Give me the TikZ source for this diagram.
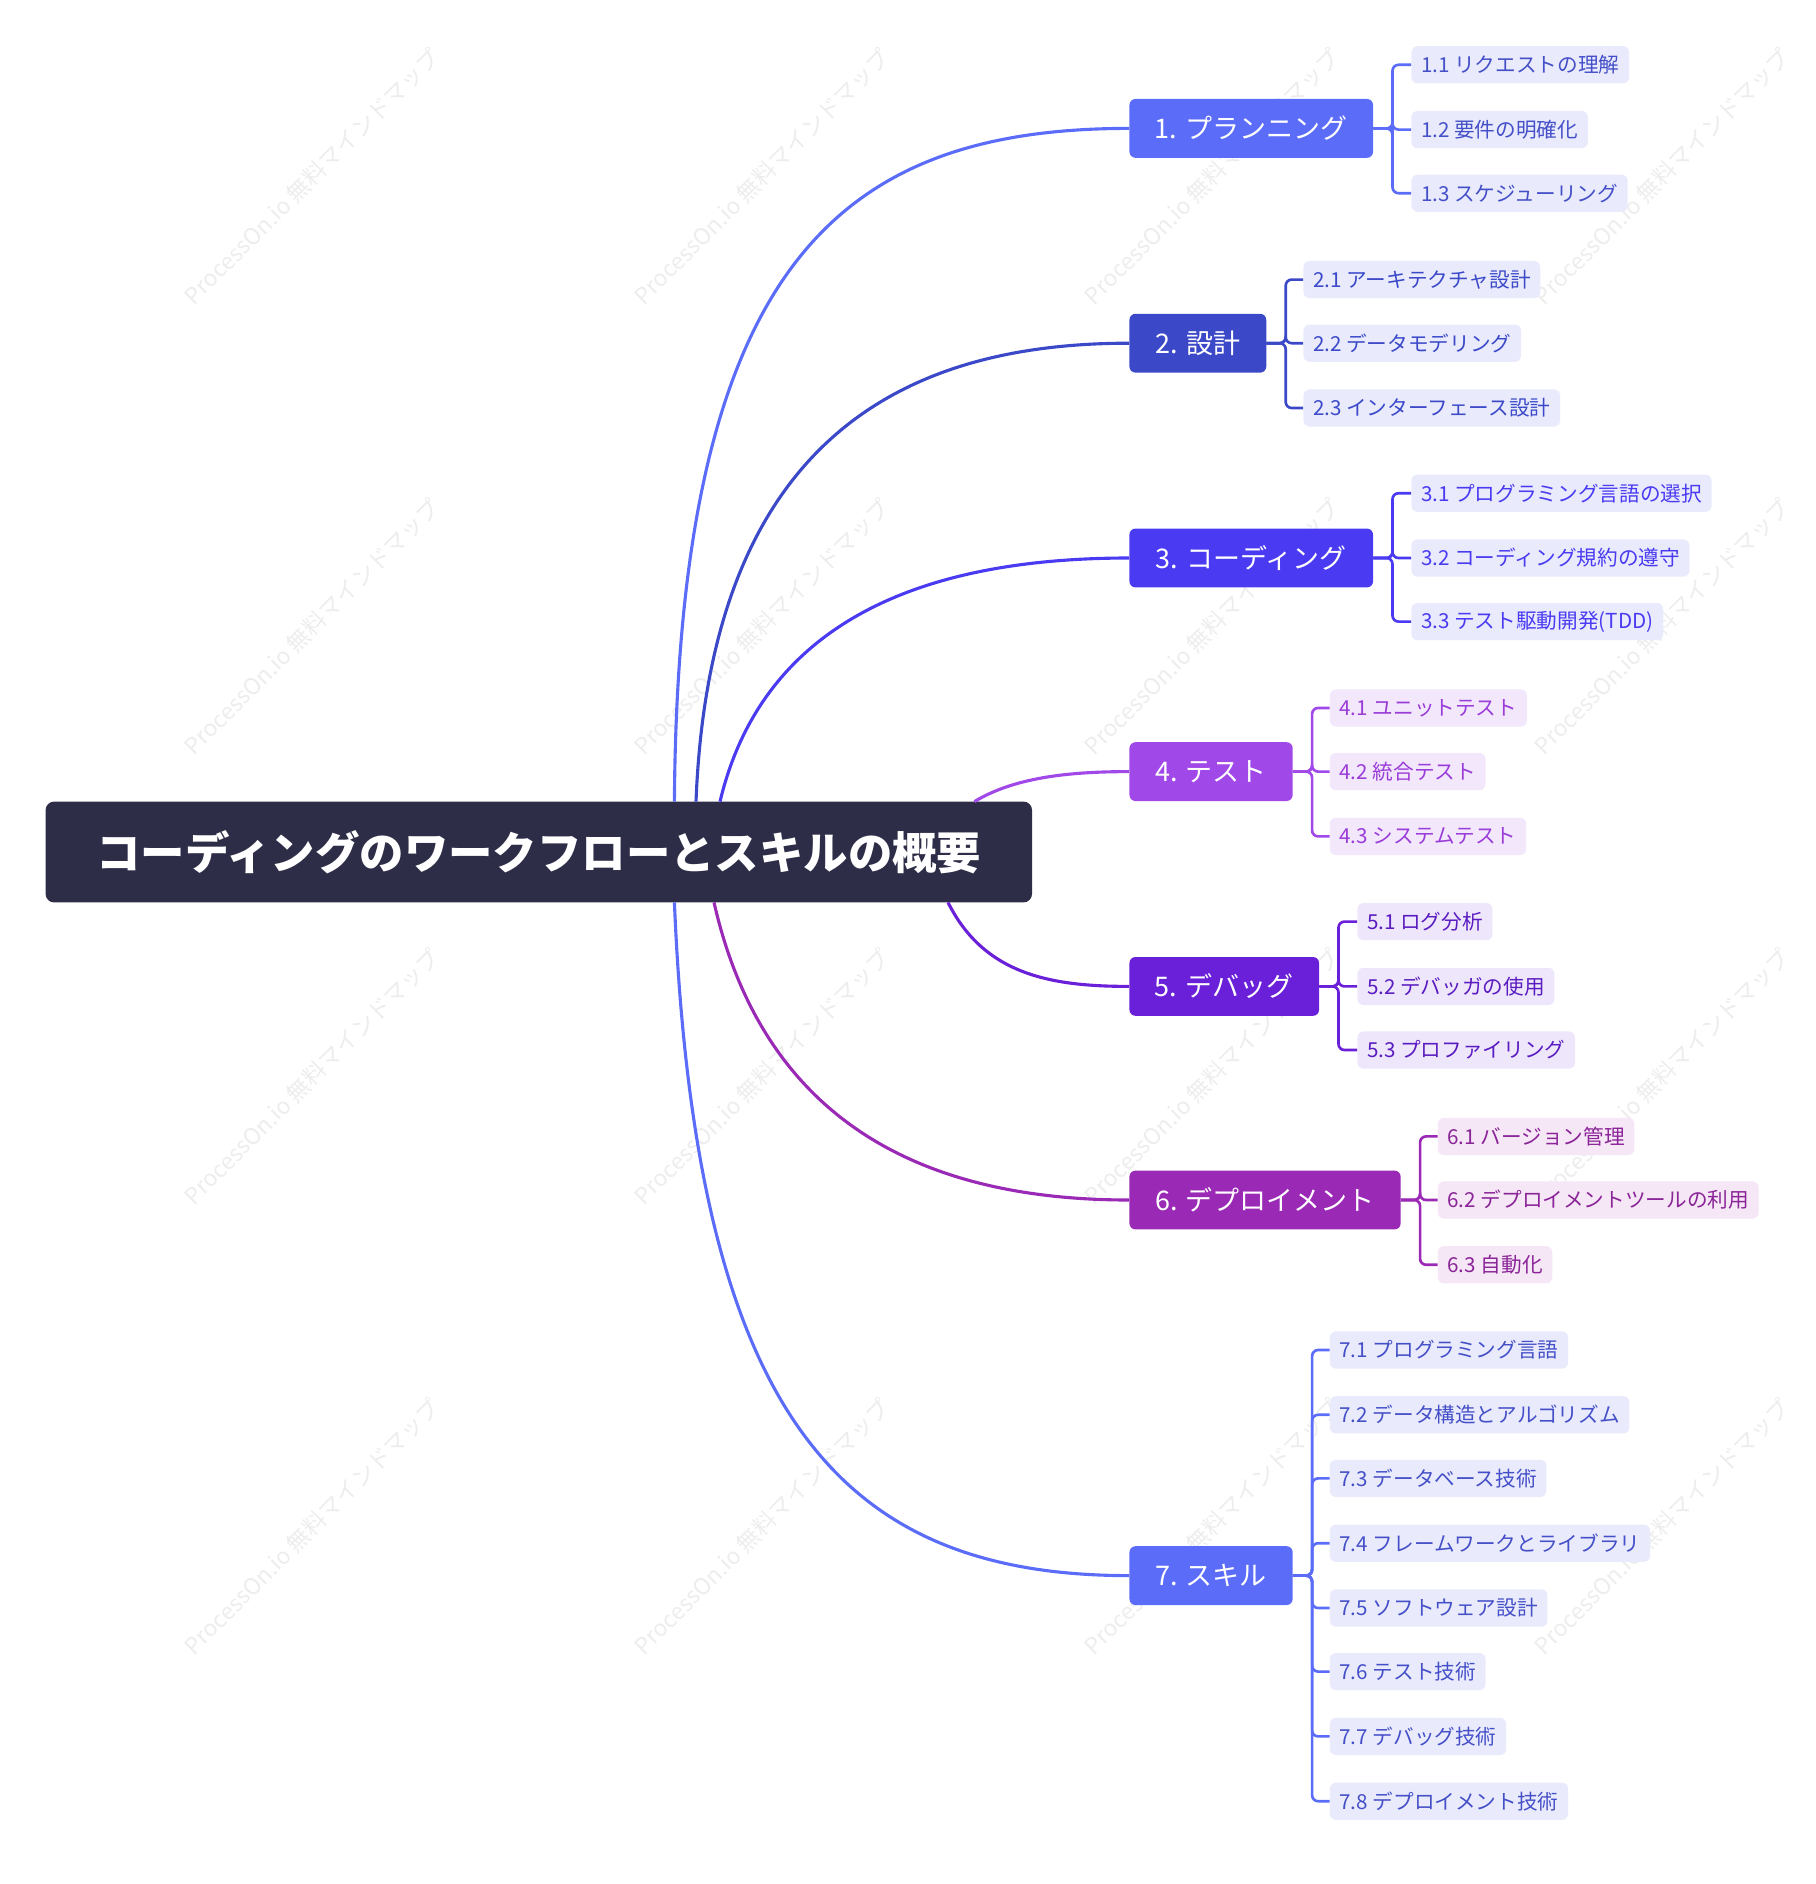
\documentclass[tikz,border=0pt]{standalone}
\usepackage{fontspec}
\setmainfont{Noto Sans CJK JP}
\begin{document}
\begin{tikzpicture}[x=1pt,y=-1pt,
  br/.style={rounded corners=5pt,text=white,font=\fontsize{22.5}{26}\selectfont,anchor=west,minimum height=49pt,inner xsep=10pt},
  kid/.style={rounded corners=5pt,font=\fontsize{17.2}{20}\selectfont,anchor=west,minimum height=31pt,inner xsep=8pt},
  ln/.style={line width=2.6pt},
  bk/.style={line width=2.2pt,rounded corners=5pt},
  wm/.style={text=black!7,font=\fontsize{19}{22}\selectfont,rotate=45}]
\useasboundingbox (0,0) rectangle (1513,1570);
\definecolor{cR}{HTML}{2E2D48}
\definecolor{cA}{HTML}{5B6CF8}\definecolor{cB}{HTML}{3B49C9}\definecolor{cC}{HTML}{4A3BF2}
\definecolor{cD}{HTML}{A148E8}\definecolor{cE}{HTML}{6A20D8}\definecolor{cF}{HTML}{9A2AB6}
\definecolor{tA}{HTML}{4550C8}\definecolor{tD}{HTML}{9A3CD8}\definecolor{tE}{HTML}{5A1CC0}\definecolor{tF}{HTML}{8A2498}
\definecolor{fA}{HTML}{E9EBFC}\definecolor{fD}{HTML}{F3E7FC}\definecolor{fE}{HTML}{EEE7FC}\definecolor{fF}{HTML}{F6E7F6}
% watermarks
\foreach \x in {260,635,1010,1385} \foreach \y in {147,522,897,1272}
  \node[wm] (w\x\y) at (\x,\y) {ProcessOn.io 無料マインドマップ};
\node[fill=cR,rounded corners=7pt,minimum width=822pt,minimum height=84pt,text=white,font=\fontsize{37}{42}\selectfont\bfseries] (root) at (449,710) {コーディングのワークフローとスキルの概要};
\node[br,fill=cA,minimum width=203pt] (b1) at (941,107) {1. プランニング};
\node[br,fill=cB,minimum width=114pt] (b2) at (941,286) {2. 設計};
\node[br,fill=cC,minimum width=203pt] (b3) at (941,465) {3. コーディング};
\node[br,fill=cD,minimum width=136pt] (b4) at (941,643) {4. テスト};
\node[br,fill=cE,minimum width=158pt] (b5) at (941,822) {5. デバッグ};
\node[br,fill=cF,minimum width=226pt] (b6) at (941,1000) {6. デプロイメント};
\node[br,fill=cA,minimum width=136pt] (b7) at (941,1313) {7. スキル};
\coordinate (s1) at (562,668);\coordinate (s2) at (580,668);\coordinate (s3) at (600,668);
\coordinate (s4) at (812,668);\coordinate (s5) at (790,752);\coordinate (s6) at (595,752);\coordinate (s7) at (562,752);
\draw[ln,cA] (s1) .. controls (565,220) and (700,107) .. (b1.west);
\draw[ln,cB] (s2) .. controls (592,360) and (760,286) .. (b2.west);
\draw[ln,cC] (s3) .. controls (640,500) and (800,465) .. (b3.west);
\draw[ln,cD] (s4) .. controls (845,648) and (890,643) .. (b4.west);
\draw[ln,cE] (s5) .. controls (820,812) and (875,822) .. (b5.west);
\draw[ln,cF] (s6) .. controls (640,950) and (790,1000) .. (b6.west);
\draw[ln,cA] (s7) .. controls (580,1180) and (700,1313) .. (b7.west);
\newcommand{\kids}[5]{%
  \foreach \i/\t/\y in \kidlist {
    \node[kid,fill=#5,text=#4] (c#1\i) at (#2,\y) {\t};
    \draw[bk,#3] (b#1.east) -- ++(16,0) |- (c#1\i.west);}}
\def\kidlist{1/1.1 リクエストの理解/54,2/1.2 要件の明確化/108,3/1.3 スケジューリング/161}
\kids{1}{1176}{cA}{tA}{fA}
\def\kidlist{1/2.1 アーキテクチャ設計/233,2/2.2 データモデリング/286,3/2.3 インターフェース設計/340}
\kids{2}{1086}{cB}{cB}{fA}
\def\kidlist{1/3.1 プログラミング言語の選択/411,2/3.2 コーディング規約の遵守/465,3/3.3 テスト駆動開発(TDD)/518}
\kids{3}{1176}{cC}{cC}{fA}
\def\kidlist{1/4.1 ユニットテスト/590,2/4.2 統合テスト/643,3/4.3 システムテスト/697}
\kids{4}{1108}{cD}{tD}{fD}
\def\kidlist{1/5.1 ログ分析/768,2/5.2 デバッガの使用/822,3/5.3 プロファイリング/875}
\kids{5}{1131}{cE}{tE}{fE}
\def\kidlist{1/6.1 バージョン管理/947,2/6.2 デプロイメントツールの利用/1000,3/6.3 自動化/1054}
\kids{6}{1198}{cF}{tF}{fF}
\def\kidlist{1/7.1 プログラミング言語/1125,2/7.2 データ構造とアルゴリズム/1179,3/7.3 データベース技術/1232,4/7.4 フレームワークとライブラリ/1286,5/7.5 ソフトウェア設計/1340,6/7.6 テスト技術/1393,7/7.7 デバッグ技術/1447,8/7.8 デプロイメント技術/1501}
\kids{7}{1108}{cA}{tA}{fA}
\end{tikzpicture}
\end{document}
